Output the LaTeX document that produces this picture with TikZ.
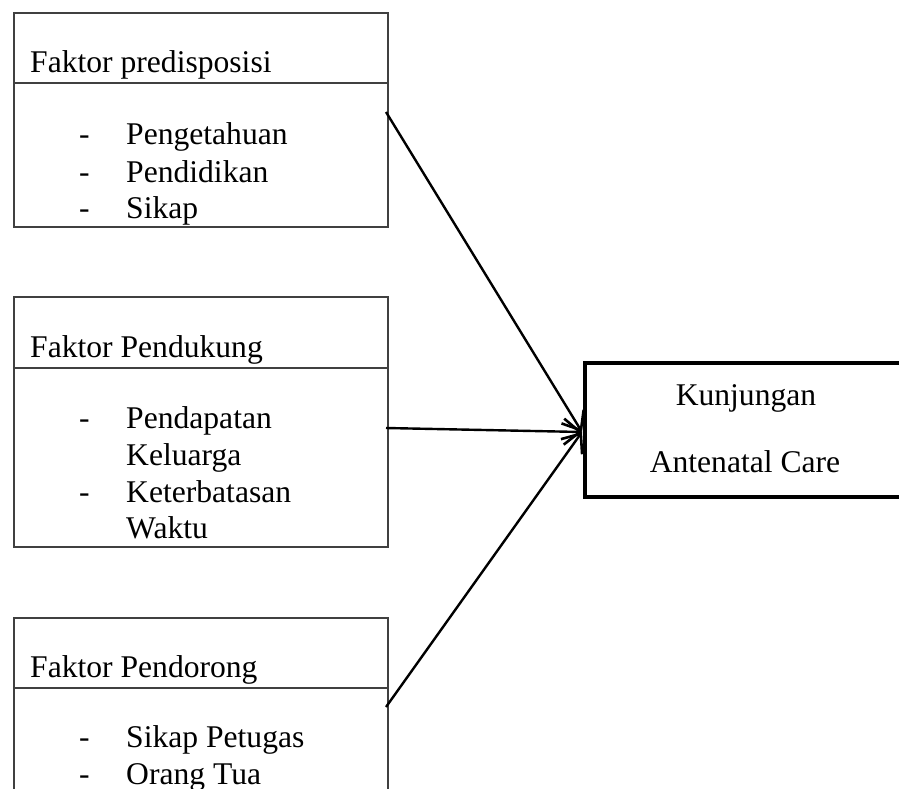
\documentclass[tikz,border=0pt]{standalone}
\usepackage{fontspec}
\setmainfont{Liberation Serif}
\usetikzlibrary{arrows.meta}
\begin{document}
\begin{tikzpicture}[x=1pt,y=-1pt,
  txt/.style={anchor=base west,inner sep=0pt,font=\fontsize{31.6}{38}\selectfont},
  ctxt/.style={anchor=base,inner sep=0pt,font=\fontsize{31.6}{38}\selectfont},
  factor/.style={draw=black!75,line width=1.3pt},
  conn/.style={line width=2.4pt,-{Straight Barb[length=16pt,width=26pt,line width=2.6pt]}}]
\useasboundingbox (0,0) rectangle (899,789);
\begin{scope}
\clip (0,0) rectangle (899,789);
% factor boxes
\draw[factor] (14,13) rectangle (388,227);
\draw[factor] (14,83) -- (388,83);
\draw[factor] (14,297) rectangle (388,547);
\draw[factor] (14,368) -- (388,368);
\draw[factor] (14,618) rectangle (388,830);
\draw[factor] (14,688) -- (388,688);
% target box
\draw[line width=4.5pt] (585,363) rectangle (905,497);
\end{scope}
% box 1 texts
\node[txt] (t1) at (30,73) {Faktor predisposisi};
\node[txt] (d11) at (79,145) {-};
\node[txt] (i11) at (126,145) {Pengetahuan};
\node[txt] (d12) at (79,182) {-};
\node[txt] (i12) at (126,182) {Pendidikan};
\node[txt] (d13) at (79,218) {-};
\node[txt] (i13) at (126,218) {Sikap};
% box 2 texts
\node[txt] (t2) at (30,357) {Faktor Pendukung};
\node[txt] (d21) at (79,428) {-};
\node[txt] (i21) at (126,428) {Pendapatan};
\node[txt] (i22) at (126,465) {Keluarga};
\node[txt] (d23) at (79,502) {-};
\node[txt] (i23) at (126,502) {Keterbatasan};
\node[txt] (i24) at (126,538) {Waktu};
% box 3 texts
\node[txt] (t3) at (30,677) {Faktor Pendorong};
\node[txt] (d31) at (79,747) {-};
\node[txt] (i31) at (126,747) {Sikap Petugas};
\node[txt] (d32) at (79,784) {-};
\node[txt] (i32) at (126,784) {Orang Tua};
% target texts
\node[ctxt] (k1) at (746,405) {Kunjungan};
\node[ctxt] (k2) at (745,472) {Antenatal Care};
% connectors
\coordinate (s1) at (386,112);
\coordinate (s2) at (386,428);
\coordinate (s3) at (386,707);
\coordinate (tip) at (582,432);
\draw[conn] (s1) -- (tip);
\draw[conn] (s2) -- (tip);
\draw[conn] (s3) -- (tip);
\end{tikzpicture}
\end{document}
